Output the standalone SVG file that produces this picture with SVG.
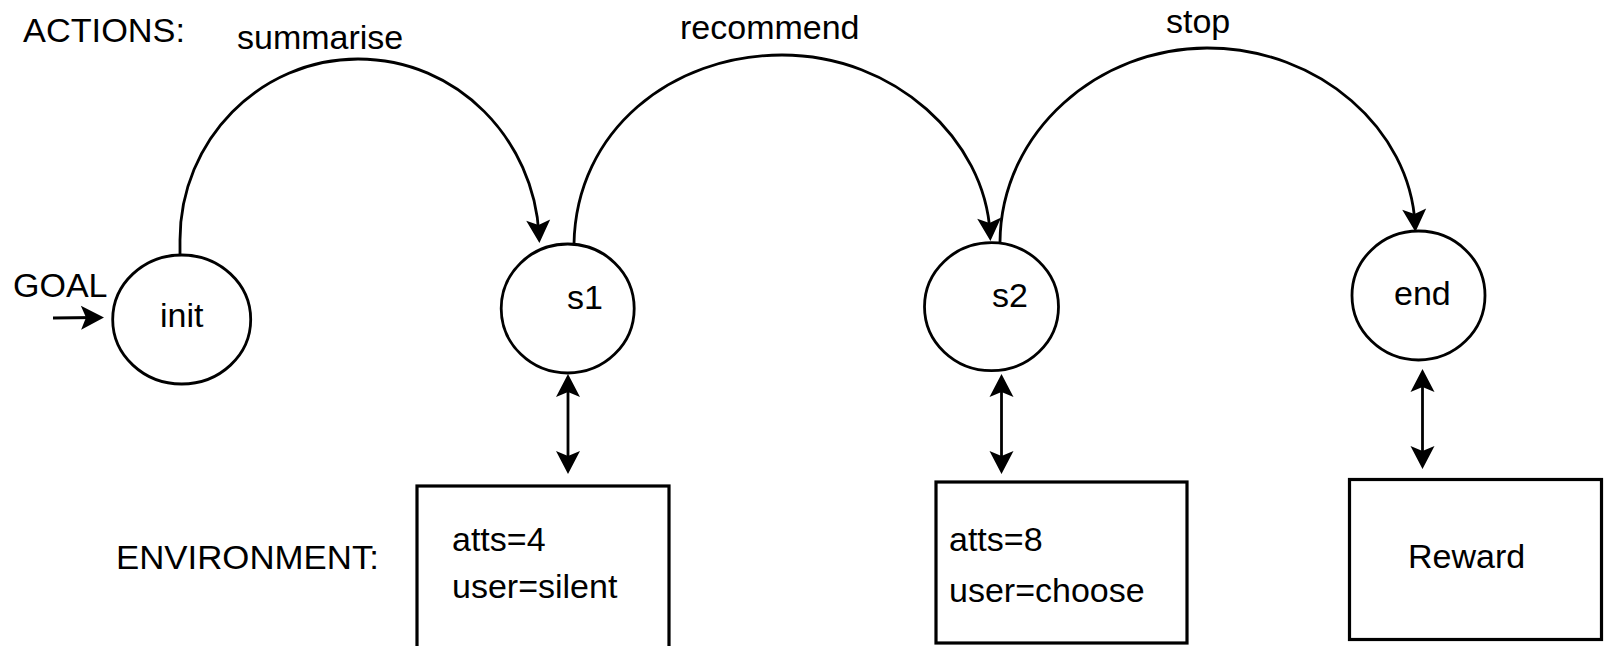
<svg xmlns="http://www.w3.org/2000/svg" width="1608" height="646" viewBox="0 0 1608 646">
  <style>
    .txt { font-family: "Liberation Sans", Arial, Helvetica, sans-serif; font-size: 34px; fill: #000; }
    .state { fill: #fff; stroke: #000; stroke-width: 2.8; }
    .box { fill: #fff; stroke: #000; stroke-width: 3.2; }
    .edge { fill: none; stroke: #000; stroke-width: 2.8; }
  </style>
  <defs>
    <marker id="arrow" viewBox="-17 -13 26 26" refX="0" refY="0" markerWidth="26" markerHeight="26" markerUnits="userSpaceOnUse" orient="auto-start-reverse">
      <path d="M8,0 L-15,-12 L-10,0 L-15,12 Z" fill="#000"/>
    </marker>
  </defs>
  <rect width="1608" height="646" fill="#fff"/>

  <g id="labels">
    <text class="txt" x="23" y="42" textLength="162" lengthAdjust="spacingAndGlyphs">ACTIONS:</text>
    <text class="txt" x="116" y="569" textLength="263" lengthAdjust="spacingAndGlyphs">ENVIRONMENT:</text>
    <text class="txt" x="13" y="297">GOAL</text>
    <text class="txt" x="237" y="49">summarise</text>
    <text class="txt" x="680" y="39">recommend</text>
    <text class="txt" x="1166" y="33">stop</text>
  </g>

  <g id="connectors">
    <path class="edge" d="M53,318 L96,317.5" marker-end="url(#arrow)"/>
    <path class="edge" d="M180,255 L180,240 C180,140 260,59 358,59 C458,59 534,140 539,235" marker-end="url(#arrow)"/>
    <path class="edge" d="M574,244 C576,130 672,55 782,55 C895,55 985,140 990,233" marker-end="url(#arrow)"/>
    <path class="edge" d="M1000,242 C1001,130 1100,48 1207,48 C1320,48 1410,130 1415,224" marker-end="url(#arrow)"/>
    <path class="edge" d="M568,382 L568,466" marker-start="url(#arrow)" marker-end="url(#arrow)"/>
    <path class="edge" d="M1001.5,382 L1001.5,466" marker-start="url(#arrow)" marker-end="url(#arrow)"/>
    <path class="edge" d="M1422.5,377 L1422.5,461" marker-start="url(#arrow)" marker-end="url(#arrow)"/>
  </g>

  <g id="node-init">
    <ellipse class="state" cx="181.7" cy="319.5" rx="69" ry="64.5"/>
    <text class="txt" x="160" y="326.7">init</text>
  </g>
  <g id="node-s1">
    <ellipse class="state" cx="567.7" cy="308.5" rx="66.5" ry="64.5"/>
    <text class="txt" x="567" y="309">s1</text>
  </g>
  <g id="node-s2">
    <ellipse class="state" cx="991.5" cy="306.7" rx="67" ry="64"/>
    <text class="txt" x="992" y="307">s2</text>
  </g>
  <g id="node-end">
    <ellipse class="state" cx="1418.5" cy="295.5" rx="66.5" ry="64.5"/>
    <text class="txt" x="1394" y="305">end</text>
  </g>

  <g id="env-s1">
    <rect class="box" x="417" y="486" width="252" height="164"/>
    <text class="txt" x="452" y="551">atts=4</text>
    <text class="txt" x="452" y="598">user=silent</text>
  </g>
  <g id="env-s2">
    <rect class="box" x="936" y="482" width="251" height="161"/>
    <text class="txt" x="949" y="551">atts=8</text>
    <text class="txt" x="949" y="602">user=choose</text>
  </g>
  <g id="env-reward">
    <rect class="box" x="1349.5" y="479.5" width="252" height="160"/>
    <text class="txt" x="1408" y="568">Reward</text>
  </g>
</svg>
